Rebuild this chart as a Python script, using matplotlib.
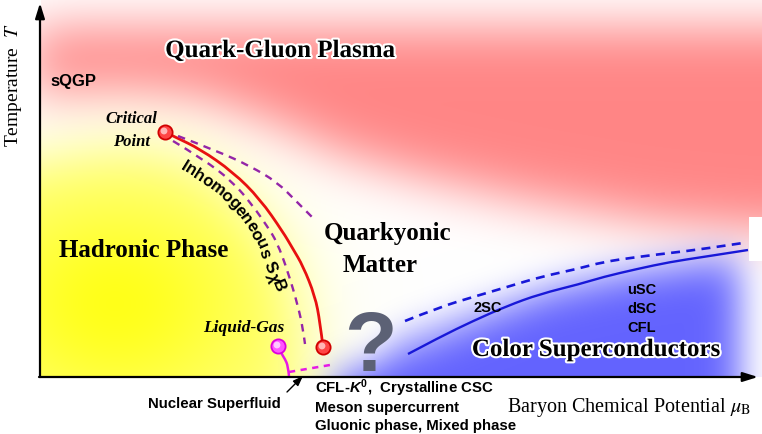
#!/usr/bin/env python3
"""QCD phase diagram sketch (temperature vs baryon chemical potential)"""

import numpy as np
import matplotlib.pyplot as plt
from matplotlib.path import Path
from matplotlib.patches import PathPatch
from matplotlib import patheffects
from matplotlib.font_manager import FontProperties

plt.rcParams['mathtext.fontset'] = 'custom'
plt.rcParams['mathtext.rm'] = 'Liberation Sans:bold'
plt.rcParams['mathtext.it'] = 'Liberation Sans:italic:bold'
plt.rcParams['mathtext.bf'] = 'Liberation Sans:bold'

SERIF = 'Liberation Serif'
SANS = 'Liberation Sans'

# phase boundaries (pixel coords, y down)
chiral_x = [165, 175, 200, 233, 260, 283, 293, 303, 315, 320, 323]
chiral_y = [133, 138, 150, 173, 200, 233, 250, 267, 297, 323, 348]
inhom_outer_x = [178, 217, 250, 277, 297, 312]
inhom_outer_y = [137, 152, 167, 183, 203, 218]
inhom_inner_x = [173, 203, 233, 253, 267, 277, 288, 298, 303, 305]
inhom_inner_y = [142, 160, 183, 207, 227, 243, 273, 307, 330, 345]
liqgas_x = [278, 281, 285, 288, 289]
liqgas_y = [347, 354, 360, 367, 377]
nsf_x = [289, 330]
nsf_y = [373, 366]
csc_dash_x = [405, 440, 473, 507, 540, 577, 603, 637, 670, 703, 743]
csc_dash_y = [322, 308, 298, 288, 278, 270, 263, 258, 254, 250, 244]
csc_solid_x = [408, 440, 473, 507, 540, 580, 603, 637, 670, 703, 748]
csc_solid_y = [355, 338, 322, 307, 295, 285, 278, 270, 263, 258, 251]

crit_pt = (165, 133)
end_pt = (323, 348)
lg_pt = (278, 347)

# rough outlines of the coloured regions
red_region = [(30, 28), (762, 28), (762, 232), (650, 222), (520, 200), (420, 178),
              (340, 155), (270, 122), (200, 97), (120, 90), (30, 95)]
yellow_region = [(0, 170), (120, 150), (190, 160), (240, 200), (275, 250),
                 (298, 310), (305, 378), (0, 378)]
blue_region = [(330, 378), (380, 362), (430, 345), (480, 325), (550, 298), (630, 280),
               (700, 270), (735, 266), (735, 378)]
lavender_region = [(390, 335), (480, 305), (580, 275), (700, 255), (740, 250),
                   (740, 378), (390, 378)]

W, H = 762, 378
AXIS_X = 40


def blur(a, s):
    r = int(3 * s)
    t = np.arange(-r, r + 1)
    k = np.exp(-0.5 * (t / s) ** 2)
    k /= k.sum()
    p = np.pad(a, r, mode='edge')
    p = np.apply_along_axis(lambda v: np.convolve(v, k, mode='valid'), 1, p)
    p = np.apply_along_axis(lambda v: np.convolve(v, k, mode='valid'), 0, p)
    return p


def background():
    xx, yy = np.meshgrid(np.arange(W) + 0.5, np.arange(H) + 0.5)
    pts = np.column_stack([xx.ravel(), yy.ravel()])

    def region(poly, sigma):
        m = Path(poly).contains_points(pts).reshape(H, W).astype(float)
        return blur(m, sigma)

    def blend(img, color, a):
        a = np.clip(a, 0, 1)[..., None]
        return img * (1 - a) + np.array(color) * a

    img = np.ones((H, W, 3))
    img = blend(img, (1.0, 0.5, 0.5), 0.95 * region(red_region, 26))
    ya = 0.5 * region(yellow_region, 28)
    blob = 0.8 * np.exp(-0.5 * (((xx - 115) / 95) ** 2 + ((yy - 305) / 75) ** 2))
    img = blend(img, (1.0, 1.0, 0.0), 1 - (1 - ya) * (1 - blob))
    img = blend(img, (0.55, 0.55, 1.0), 0.45 * region(lavender_region, 16))
    img = blend(img, (0.32, 0.32, 1.0), 0.85 * region(blue_region, 18))
    img[218:262, 749:] = 1.0
    img[:, :AXIS_X + 1] = 1.0
    return img


def smooth_line(ax, xs, ys, color, lw, dashes=None, z=4):
    # quadratic B-spline style path, the read points act as control points
    P = list(zip(xs, ys))
    verts, codes = [P[0]], [Path.MOVETO]
    if len(P) == 2:
        verts.append(P[1])
        codes.append(Path.LINETO)
    else:
        for i in range(1, len(P) - 2):
            m = ((P[i][0] + P[i + 1][0]) / 2, (P[i][1] + P[i + 1][1]) / 2)
            verts += [P[i], m]
            codes += [Path.CURVE3, Path.CURVE3]
        verts += [P[-2], P[-1]]
        codes += [Path.CURVE3, Path.CURVE3]
    ls = (0, dashes) if dashes else '-'
    ax.add_patch(PathPatch(Path(verts, codes), fill=False, edgecolor=color,
                           lw=lw, linestyle=ls, zorder=z, capstyle='butt'))


def text_on_path(ax, s, gx, gy, size, color='black'):
    renderer = ax.figure.canvas.get_renderer()
    gx, gy = np.asarray(gx, float), np.asarray(gy, float)
    seg = np.hypot(np.diff(gx), np.diff(gy))
    arc = np.concatenate([[0], np.cumsum(seg)])
    pos = 0.0
    for ch in s:
        style = 'italic' if ch == 'χ' else 'normal'
        fp = FontProperties(family=SANS, weight='bold', style=style, size=size)
        w = renderer.get_text_width_height_descent(ch, fp, ismath=False)[0]
        mid = pos + w / 2
        pos += w
        if ch == ' ':
            continue
        x = np.interp(mid, arc, gx)
        y = np.interp(mid, arc, gy)
        x0, y0 = np.interp(mid - 6, arc, gx), np.interp(mid - 6, arc, gy)
        x1, y1 = np.interp(mid + 6, arc, gx), np.interp(mid + 6, arc, gy)
        ang = np.degrees(np.arctan2(-(y1 - y0), x1 - x0))
        ax.text(x, y, ch, fontproperties=fp, color=color, rotation=ang,
                rotation_mode='anchor', ha='center', va='center')


def dot(ax, xy, face, edge, inner):
    ax.scatter([xy[0]], [xy[1]], s=105, facecolor=face, edgecolor=edge, linewidth=1.3, zorder=6)
    ax.scatter([xy[0] - 1], [xy[1] - 1], s=24, facecolor=inner, edgecolor='none', zorder=7)


def main():
    fig = plt.figure(figsize=(7.62, 4.35), dpi=100)
    ax = fig.add_axes([0, 0, 1, 1])
    ax.set_xlim(0, 762)
    ax.set_ylim(435, 0)
    ax.axis('off')

    ax.imshow(background(), extent=(0, W, H, 0), aspect='auto', interpolation='bilinear', zorder=0)

    # axes arrows
    ax.annotate('', xy=(AXIS_X, 4), xytext=(AXIS_X, 378),
                arrowprops=dict(arrowstyle='-|>,head_length=0.9,head_width=0.28', lw=1.6,
                                color='black', shrinkA=0, shrinkB=0), zorder=8)
    ax.annotate('', xy=(758, 378), xytext=(AXIS_X - 1, 378),
                arrowprops=dict(arrowstyle='-|>,head_length=0.9,head_width=0.28', lw=1.6,
                                color='black', shrinkA=0, shrinkB=0), zorder=8)

    # boundaries
    purple = '#9425a8'
    smooth_line(ax, chiral_x, chiral_y, '#e81010', 2.0)
    smooth_line(ax, inhom_outer_x, inhom_outer_y, purple, 1.7, dashes=(3.2, 2.6))
    smooth_line(ax, inhom_inner_x, inhom_inner_y, purple, 1.7, dashes=(3.2, 2.6))
    smooth_line(ax, liqgas_x, liqgas_y, '#e619e6', 1.8)
    smooth_line(ax, nsf_x, nsf_y, '#e619e6', 1.8, dashes=(2.5, 2.2))
    smooth_line(ax, csc_dash_x, csc_dash_y, '#1818d8', 1.9, dashes=(3.4, 2.4))
    smooth_line(ax, csc_solid_x, csc_solid_y, '#1818d8', 1.7)

    dot(ax, crit_pt, '#ff4545', '#d00000', '#ffb5b5')
    dot(ax, end_pt, '#ff4545', '#d00000', '#ffb5b5')
    dot(ax, lg_pt, '#ff55ff', '#dd00dd', '#ffc8ff')

    ax.annotate('', xy=(303, 377), xytext=(287, 393),
                arrowprops=dict(arrowstyle='-|>,head_length=0.6,head_width=0.22', lw=1.0,
                                color='black', shrinkA=0, shrinkB=0), zorder=8)

    glow = [patheffects.withStroke(linewidth=3, foreground='white')]
    ax.text(280, 58, 'Quark-Gluon Plasma', family=SERIF, weight='bold', size=18,
            ha='center', va='baseline', path_effects=glow, zorder=9)
    ax.text(50, 86, 'sQGP', family=SANS, weight='bold', size=12, ha='left', va='baseline', zorder=9)
    ax.text(131, 123, 'Critical', family=SERIF, weight='bold', style='italic', size=12,
            ha='center', va='baseline', zorder=9)
    ax.text(132, 146, 'Point', family=SERIF, weight='bold', style='italic', size=12,
            ha='center', va='baseline', zorder=9)
    ax.text(144, 257, 'Hadronic Phase', family=SERIF, weight='bold', size=18,
            ha='center', va='baseline', zorder=9)
    ax.text(388, 240, 'Quarkyonic', family=SERIF, weight='bold', size=18,
            ha='center', va='baseline', zorder=9)
    ax.text(380, 272, 'Matter', family=SERIF, weight='bold', size=18,
            ha='center', va='baseline', zorder=9)
    ax.text(244, 332, 'Liquid-Gas', family=SERIF, weight='bold', style='italic', size=12.5,
            ha='center', va='baseline', zorder=9)
    ax.text(370, 371, '?', family=SANS, weight='bold', size=62, color='#5c6175',
            ha='center', va='baseline', zorder=3)
    ax.text(488, 312, '2SC', family=SANS, weight='bold', size=10.5, ha='center', va='baseline', zorder=9)
    for lab, yb in zip(['uSC', 'dSC', 'CFL'], [294, 313, 332]):
        ax.text(642, yb, lab, family=SANS, weight='bold', size=10.5, ha='center', va='baseline', zorder=9)
    ax.text(596, 357, 'Color Superconductors', family=SERIF, weight='bold', size=18,
            ha='center', va='baseline', path_effects=glow, zorder=9)

    text_on_path(ax, 'Inhomogeneous SχB',
                 [182, 203, 222, 238, 250, 260, 267, 274, 282, 286],
                 [165, 178, 192, 208, 225, 242, 260, 276, 296, 310], size=12)

    # labels below the axis
    ax.text(148, 408, 'Nuclear Superfluid', family=SANS, weight='bold', size=10.8,
            ha='left', va='baseline', zorder=9)
    ax.text(315, 393, r'CFL-$K^{0}$,  Crystalline CSC', family=SANS, weight='bold', size=10.8,
            ha='left', va='baseline', math_fontfamily='custom', zorder=9)
    ax.text(315, 412, 'Meson supercurrent', family=SANS, weight='bold', size=10.8,
            ha='left', va='baseline', zorder=9)
    ax.text(315, 430, 'Gluonic phase, Mixed phase', family=SANS, weight='bold', size=10.8,
            ha='left', va='baseline', zorder=9)
    ax.text(507, 412, r'Baryon Chemical Potential $\mu_{\mathrm{B}}$', family=SERIF, size=14.5,
            ha='left', va='baseline', math_fontfamily='stix', zorder=9)
    ax.text(14, 85, r'Temperature  $T$', family=SERIF, size=14, rotation=90,
            ha='center', va='center', math_fontfamily='stix', zorder=9)

    fig.savefig('out.png', dpi=100)
    plt.close(fig)


if __name__ == '__main__':
    main()
